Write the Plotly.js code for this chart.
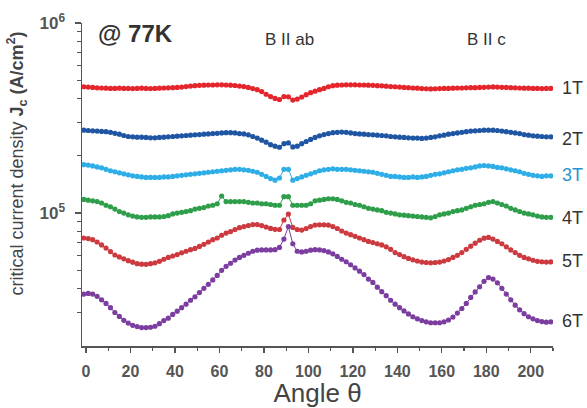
<!DOCTYPE html>
<html>
<head>
<meta charset="utf-8">
<script src="https://cdn.plot.ly/plotly-3.0.1.min.js"></script>
<style>
  html, body { margin: 0; padding: 0; background: #fff; }
  #chart { width: 587px; height: 408px; }
</style>
</head>
<body>
<div id="chart"></div>
<script>
// Measurement angles (degrees)
const angle = [
  -1, 1, 3, 5, 7, 9, 11, 13, 15, 17,
  19, 21, 23, 25, 27, 29, 31, 33, 35, 37,
  39, 41, 43, 45, 47, 49, 51, 53, 55, 57,
  59, 61, 63, 65, 67, 69, 71, 73, 75, 77,
  79, 81, 83, 85, 87, 89, 91, 93, 95, 97,
  99, 101, 103, 105, 107, 109, 111, 113, 115, 117,
  119, 121, 123, 125, 127, 129, 131, 133, 135, 137,
  139, 141, 143, 145, 147, 149, 151, 153, 155, 157,
  159, 161, 163, 165, 167, 169, 171, 173, 175, 177,
  179, 181, 183, 185, 187, 189, 191, 193, 195, 197,
  199, 201, 203, 205, 207, 209
];

// Critical current density Jc (A/cm^2) for each applied field
const jc1T = [
  4.62e5, 4.60e5, 4.58e5, 4.56e5, 4.55e5, 4.54e5, 4.53e5, 4.53e5, 4.54e5, 4.53e5,
  4.53e5, 4.52e5, 4.53e5, 4.54e5, 4.53e5, 4.52e5, 4.53e5, 4.54e5, 4.55e5, 4.56e5,
  4.57e5, 4.58e5, 4.60e5, 4.63e5, 4.66e5, 4.68e5, 4.70e5, 4.71e5, 4.72e5, 4.72e5,
  4.73e5, 4.73e5, 4.72e5, 4.71e5, 4.69e5, 4.66e5, 4.63e5, 4.58e5, 4.52e5, 4.46e5,
  4.36e5, 4.22e5, 4.10e5, 4.01e5, 3.96e5, 4.10e5, 4.09e5, 3.93e5, 3.98e5, 4.08e5,
  4.20e5, 4.30e5, 4.38e5, 4.46e5, 4.53e5, 4.62e5, 4.68e5, 4.71e5, 4.72e5, 4.73e5,
  4.73e5, 4.73e5, 4.72e5, 4.72e5, 4.71e5, 4.70e5, 4.68e5, 4.67e5, 4.65e5, 4.63e5,
  4.62e5, 4.60e5, 4.58e5, 4.57e5, 4.55e5, 4.54e5, 4.52e5, 4.51e5, 4.50e5, 4.51e5,
  4.52e5, 4.53e5, 4.53e5, 4.54e5, 4.55e5, 4.55e5, 4.56e5, 4.57e5, 4.57e5, 4.58e5,
  4.59e5, 4.60e5, 4.61e5, 4.60e5, 4.59e5, 4.58e5, 4.57e5, 4.56e5, 4.55e5, 4.54e5,
  4.54e5, 4.53e5, 4.53e5, 4.52e5, 4.53e5, 4.53e5
];
const jc2T = [
  2.73e5, 2.72e5, 2.71e5, 2.70e5, 2.69e5, 2.68e5, 2.66e5, 2.63e5, 2.60e5, 2.56e5,
  2.53e5, 2.52e5, 2.51e5, 2.51e5, 2.50e5, 2.49e5, 2.49e5, 2.50e5, 2.51e5, 2.52e5,
  2.53e5, 2.54e5, 2.55e5, 2.56e5, 2.57e5, 2.58e5, 2.59e5, 2.60e5, 2.61e5, 2.62e5,
  2.63e5, 2.64e5, 2.65e5, 2.65e5, 2.64e5, 2.62e5, 2.61e5, 2.58e5, 2.53e5, 2.48e5,
  2.42e5, 2.36e5, 2.29e5, 2.25e5, 2.22e5, 2.32e5, 2.34e5, 2.23e5, 2.25e5, 2.32e5,
  2.38e5, 2.44e5, 2.50e5, 2.55e5, 2.59e5, 2.62e5, 2.65e5, 2.66e5, 2.67e5, 2.66e5,
  2.64e5, 2.62e5, 2.61e5, 2.60e5, 2.59e5, 2.58e5, 2.57e5, 2.56e5, 2.55e5, 2.53e5,
  2.52e5, 2.51e5, 2.50e5, 2.49e5, 2.48e5, 2.48e5, 2.47e5, 2.48e5, 2.50e5, 2.52e5,
  2.55e5, 2.57e5, 2.60e5, 2.62e5, 2.64e5, 2.66e5, 2.68e5, 2.70e5, 2.71e5, 2.72e5,
  2.73e5, 2.73e5, 2.73e5, 2.72e5, 2.70e5, 2.68e5, 2.66e5, 2.64e5, 2.62e5, 2.59e5,
  2.57e5, 2.55e5, 2.54e5, 2.53e5, 2.52e5, 2.52e5
];
const jc3T = [
  1.80e5, 1.79e5, 1.77e5, 1.75e5, 1.73e5, 1.70e5, 1.67e5, 1.65e5, 1.63e5, 1.61e5,
  1.59e5, 1.57e5, 1.56e5, 1.55e5, 1.54e5, 1.54e5, 1.54e5, 1.54e5, 1.55e5, 1.55e5,
  1.56e5, 1.57e5, 1.58e5, 1.59e5, 1.60e5, 1.61e5, 1.62e5, 1.63e5, 1.64e5, 1.65e5,
  1.66e5, 1.67e5, 1.68e5, 1.69e5, 1.70e5, 1.70e5, 1.69e5, 1.68e5, 1.66e5, 1.64e5,
  1.60e5, 1.56e5, 1.52e5, 1.49e5, 1.53e5, 1.70e5, 1.70e5, 1.49e5, 1.52e5, 1.55e5,
  1.58e5, 1.61e5, 1.64e5, 1.67e5, 1.69e5, 1.70e5, 1.71e5, 1.70e5, 1.70e5, 1.70e5,
  1.69e5, 1.68e5, 1.67e5, 1.66e5, 1.65e5, 1.64e5, 1.62e5, 1.60e5, 1.58e5, 1.56e5,
  1.56e5, 1.55e5, 1.54e5, 1.54e5, 1.55e5, 1.54e5, 1.55e5, 1.56e5, 1.58e5, 1.60e5,
  1.61e5, 1.63e5, 1.65e5, 1.67e5, 1.69e5, 1.70e5, 1.72e5, 1.73e5, 1.75e5, 1.77e5,
  1.78e5, 1.77e5, 1.76e5, 1.74e5, 1.73e5, 1.71e5, 1.69e5, 1.67e5, 1.65e5, 1.62e5,
  1.60e5, 1.58e5, 1.57e5, 1.56e5, 1.57e5, 1.57e5
];
const jc4T = [
  1.18e5, 1.17e5, 1.16e5, 1.15e5, 1.13e5, 1.10e5, 1.08e5, 1.05e5, 1.02e5, 1.00e5,
  9.80e4, 9.65e4, 9.55e4, 9.50e4, 9.50e4, 9.55e4, 9.55e4, 9.55e4, 9.60e4, 9.70e4,
  9.90e4, 1.00e5, 1.01e5, 1.02e5, 1.03e5, 1.05e5, 1.06e5, 1.07e5, 1.09e5, 1.10e5,
  1.12e5, 1.23e5, 1.15e5, 1.15e5, 1.15e5, 1.15e5, 1.15e5, 1.14e5, 1.13e5, 1.13e5,
  1.12e5, 1.12e5, 1.11e5, 1.10e5, 1.10e5, 1.22e5, 1.22e5, 1.10e5, 1.10e5, 1.10e5,
  1.10e5, 1.12e5, 1.16e5, 1.17e5, 1.18e5, 1.19e5, 1.19e5, 1.18e5, 1.16e5, 1.14e5,
  1.13e5, 1.11e5, 1.10e5, 1.08e5, 1.06e5, 1.05e5, 1.04e5, 1.03e5, 1.01e5, 1.00e5,
  9.90e4, 9.80e4, 9.75e4, 9.70e4, 9.65e4, 9.60e4, 9.55e4, 9.50e4, 9.45e4, 9.60e4,
  9.80e4, 9.90e4, 1.00e5, 1.02e5, 1.03e5, 1.04e5, 1.06e5, 1.08e5, 1.10e5, 1.11e5,
  1.12e5, 1.14e5, 1.15e5, 1.13e5, 1.11e5, 1.09e5, 1.06e5, 1.04e5, 1.02e5, 1.00e5,
  9.90e4, 9.80e4, 9.65e4, 9.55e4, 9.50e4, 9.50e4
];
const jc5T = [
  7.40e4, 7.35e4, 7.25e4, 7.05e4, 6.80e4, 6.55e4, 6.28e4, 6.02e4, 5.88e4, 5.75e4,
  5.62e4, 5.52e4, 5.42e4, 5.39e4, 5.38e4, 5.42e4, 5.48e4, 5.58e4, 5.72e4, 5.85e4,
  5.95e4, 6.05e4, 6.18e4, 6.30e4, 6.42e4, 6.52e4, 6.68e4, 6.85e4, 7.05e4, 7.25e4,
  7.40e4, 7.65e4, 7.85e4, 8.00e4, 8.20e4, 8.38e4, 8.50e4, 8.60e4, 8.70e4, 8.70e4,
  8.60e4, 8.45e4, 8.31e4, 8.22e4, 8.20e4, 9.20e4, 9.88e4, 8.41e4, 8.20e4, 8.14e4,
  8.30e4, 8.50e4, 8.65e4, 8.68e4, 8.68e4, 8.65e4, 8.50e4, 8.30e4, 8.05e4, 7.85e4,
  7.70e4, 7.55e4, 7.40e4, 7.25e4, 7.10e4, 7.00e4, 6.90e4, 6.80e4, 6.65e4, 6.45e4,
  6.20e4, 6.05e4, 5.90e4, 5.78e4, 5.68e4, 5.60e4, 5.53e4, 5.50e4, 5.48e4, 5.50e4,
  5.53e4, 5.60e4, 5.70e4, 5.85e4, 6.00e4, 6.20e4, 6.45e4, 6.70e4, 6.95e4, 7.20e4,
  7.38e4, 7.45e4, 7.30e4, 7.10e4, 6.90e4, 6.65e4, 6.40e4, 6.20e4, 6.00e4, 5.85e4,
  5.75e4, 5.65e4, 5.58e4, 5.55e4, 5.53e4, 5.54e4
];
const jc6T = [
  3.75e4, 3.78e4, 3.75e4, 3.65e4, 3.50e4, 3.35e4, 3.18e4, 3.00e4, 2.86e4, 2.73e4,
  2.64e4, 2.57e4, 2.53e4, 2.50e4, 2.50e4, 2.51e4, 2.54e4, 2.62e4, 2.72e4, 2.80e4,
  2.93e4, 3.05e4, 3.18e4, 3.32e4, 3.48e4, 3.63e4, 3.82e4, 4.02e4, 4.22e4, 4.45e4,
  4.70e4, 5.00e4, 5.25e4, 5.45e4, 5.66e4, 5.85e4, 6.00e4, 6.15e4, 6.30e4, 6.38e4,
  6.40e4, 6.40e4, 6.40e4, 6.42e4, 6.60e4, 7.30e4, 8.50e4, 6.90e4, 6.30e4, 6.25e4,
  6.30e4, 6.38e4, 6.42e4, 6.40e4, 6.35e4, 6.25e4, 6.10e4, 5.92e4, 5.72e4, 5.55e4,
  5.35e4, 5.15e4, 4.95e4, 4.75e4, 4.50e4, 4.32e4, 4.08e4, 3.86e4, 3.68e4, 3.48e4,
  3.32e4, 3.18e4, 3.06e4, 2.95e4, 2.85e4, 2.78e4, 2.72e4, 2.68e4, 2.65e4, 2.65e4,
  2.65e4, 2.68e4, 2.74e4, 2.84e4, 2.98e4, 3.15e4, 3.35e4, 3.60e4, 3.85e4, 4.10e4,
  4.38e4, 4.58e4, 4.50e4, 4.30e4, 4.02e4, 3.75e4, 3.50e4, 3.28e4, 3.10e4, 2.96e4,
  2.85e4, 2.78e4, 2.72e4, 2.69e4, 2.67e4, 2.68e4
];

const fieldLabels = ['1T', '2T', '3T', '4T', '5T', '6T'];
const seriesData = [jc1T, jc2T, jc3T, jc4T, jc5T, jc6T];
const seriesColors = ['#e4252c', '#1f56a3', '#2eaee6', '#2f9e4a', '#cc3a3f', '#7b3d9f'];
const labelColors = ['#333333', '#333333', '#2a93cf', '#333333', '#333333', '#333333'];
const labelY = [0.799, 0.641, 0.529, 0.396, 0.263, 0.077];

const yTickVals = [1e5, 1e6];
const yTickText = ['10<sup>5</sup>', '10<sup>6</sup>'];
const yMinorVals = [3e4, 4e4, 5e4, 6e4, 7e4, 8e4, 9e4,
                    2e5, 3e5, 4e5, 5e5, 6e5, 7e5, 8e5, 9e5];

const FONT = 'Arial, "Liberation Sans", sans-serif';
const AXIS = '#555555';

const traces = seriesData.map((vals, i) => ({
  x: angle,
  y: vals,
  type: 'scatter',
  mode: 'lines+markers',
  name: fieldLabels[i],
  line: { color: seriesColors[i], width: 1 },
  marker: { color: seriesColors[i], size: 5.2 },
  showlegend: false
}));

const annotations = fieldLabels.map((t, i) => ({
  text: t, xref: 'paper', yref: 'paper', x: 1.015, y: labelY[i],
  xanchor: 'left', yanchor: 'middle', showarrow: false,
  font: { family: FONT, size: 18, color: labelColors[i] }
}));

annotations.push(
  { text: '@ 77K', xref: 'paper', yref: 'paper', x: 0.03, y: 0.969,
    xanchor: 'left', yanchor: 'middle', showarrow: false,
    font: { family: FONT, size: 24, color: '#333333', weight: 'bold' } },
  { text: 'B II ab', xref: 'paper', yref: 'paper', x: 0.4416, y: 0.95,
    xanchor: 'center', yanchor: 'middle', showarrow: false,
    font: { family: FONT, size: 17, color: '#333333' } },
  { text: 'B II c', xref: 'paper', yref: 'paper', x: 0.858, y: 0.95,
    xanchor: 'center', yanchor: 'middle', showarrow: false,
    font: { family: FONT, size: 17, color: '#333333' } },
  { text: 'critical current density <b>J<sub>c</sub> (A/cm<sup>2</sup>)</b>',
    xref: 'paper', yref: 'paper', x: -0.138, y: 0.565,
    xanchor: 'center', yanchor: 'middle', textangle: -90, showarrow: false,
    font: { family: FONT, size: 18, color: '#444444' } }
);

const layout = {
  width: 587, height: 408,
  margin: { l: 82, r: 34, t: 23, b: 62 },
  paper_bgcolor: '#ffffff', plot_bgcolor: '#ffffff',
  showlegend: false,
  xaxis: {
    range: [-1.8, 210], tick0: 0, dtick: 20,
    ticks: 'outside', ticklen: 5, tickwidth: 1.3, tickcolor: AXIS,
    showline: true, linecolor: AXIS, linewidth: 1.5,
    showgrid: false, zeroline: false,
    ticklabelstandoff: 5,
    tickfont: { family: FONT, size: 16, color: '#555555', weight: 'bold' },
    minor: { dtick: 10, ticks: 'outside', ticklen: 3, tickwidth: 1.2, tickcolor: AXIS, showgrid: false },
    title: { text: 'Angle θ', standoff: 8,
             font: { family: FONT, size: 26, color: '#444444' } }
  },
  yaxis: {
    type: 'log', range: [Math.log10(2e4), 6],
    tickvals: yTickVals, ticktext: yTickText,
    ticks: 'outside', ticklen: 6, tickwidth: 1.3, tickcolor: AXIS,
    showline: true, linecolor: AXIS, linewidth: 1.5,
    showgrid: false, zeroline: false,
    ticklabelstandoff: 6,
    tickfont: { family: FONT, size: 17, color: '#555555', weight: 'bold' },
    minor: { tickvals: yMinorVals, ticks: 'outside', ticklen: 4, tickwidth: 1.2, tickcolor: AXIS, showgrid: false }
  },
  annotations: annotations
};

Plotly.newPlot('chart', traces, layout, { displayModeBar: false, staticPlot: true });
</script>
</body>
</html>
